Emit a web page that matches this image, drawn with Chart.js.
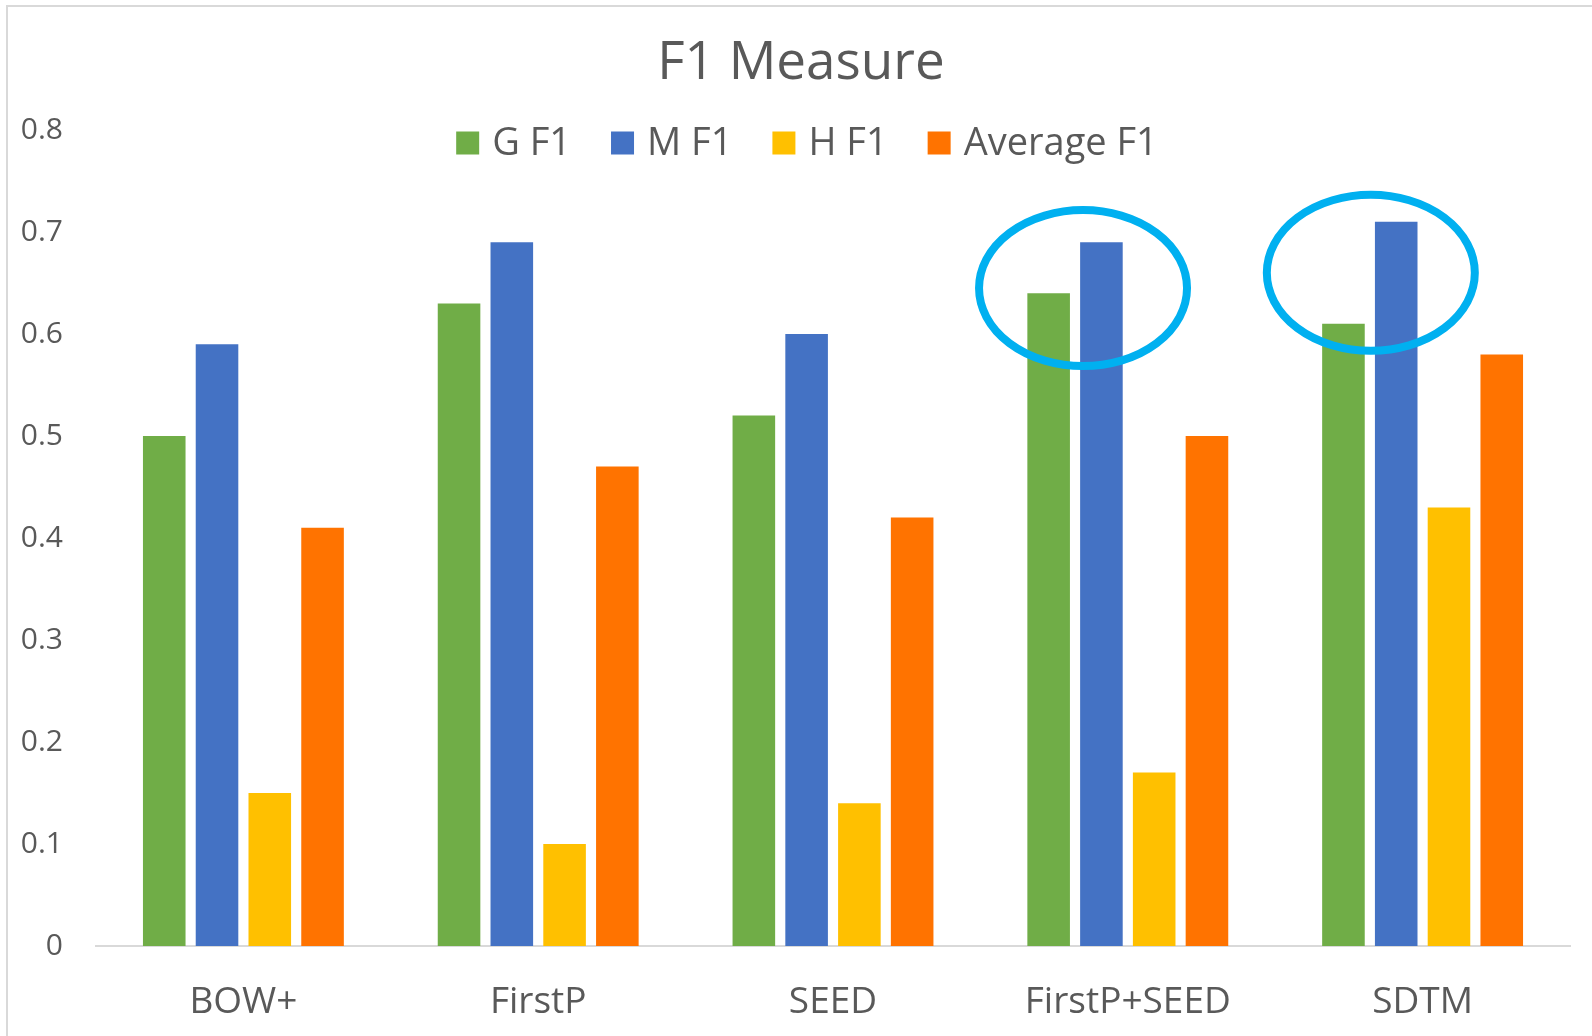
<!DOCTYPE html>
<html>
<head>
<meta charset="utf-8">
<script src="https://cdn.jsdelivr.net/npm/chart.js@4.4.1/dist/chart.umd.min.js"></script>
<style>
  html, body { margin: 0; padding: 0; background: #fff; }
  #wrap { position: relative; width: 1592px; height: 1036px; }
  #frame { position: absolute; left: 6px; top: 5px; right: -2px; bottom: -2px;
           border-left: 2px solid #d9d9d9; border-top: 2px solid #d9d9d9; pointer-events: none; }
</style>
</head>
<body>
<div id="wrap">
  <canvas id="chart"></canvas>
  <div id="frame"></div>
</div>
<script>
// data
const categories = ['BOW+', 'FirstP', 'SEED', 'FirstP+SEED', 'SDTM']
const gF1 = [0.50, 0.63, 0.52, 0.64, 0.61]
const mF1 = [0.59, 0.69, 0.60, 0.69, 0.71]
const hF1 = [0.15, 0.10, 0.14, 0.17, 0.43]
const avgF1 = [0.41, 0.47, 0.42, 0.50, 0.58]
const yTicks = [0, 0.1, 0.2, 0.3, 0.4, 0.5, 0.6, 0.7, 0.8]

// circled groups: category index and the value at the circle centre
const highlightCats = [3, 4]
const highlightValues = [0.645, 0.66]

const FONT = "'Open Sans', 'Noto Sans', sans-serif"
const TEXT = '#595959'

// title + legend drawn over the plot area like Excel does
const headerPlugin = {
  id: 'header',
  afterDraw(chart) {
    const ctx = chart.ctx
    const cx = 803
    ctx.save()
    ctx.fillStyle = TEXT
    ctx.textAlign = 'center'
    ctx.textBaseline = 'middle'
    ctx.font = `53px ${FONT}`
    ctx.fillText('F1 Measure', cx - 2, 64)

    ctx.font = `38px ${FONT}`
    const box = 23, gapText = 13, gapItem = 40
    const items = chart.data.datasets.map(d => ({
      label: d.label, color: d.backgroundColor, w: ctx.measureText(d.label).width
    }))
    let total = 0
    items.forEach((it, i) => { total += box + gapText + it.w + (i < items.length - 1 ? gapItem : 0) })
    let x = cx + 4 - total / 2
    const y = 143
    ctx.textAlign = 'left'
    items.forEach(it => {
      ctx.fillStyle = it.color
      ctx.fillRect(x, y - box / 2, box, box)
      x += box + gapText
      ctx.fillStyle = TEXT
      ctx.fillText(it.label, x, y + 1)
      x += it.w + gapItem
    })
    ctx.restore()
  }
}

const circleShift = [8, 1]
const circlePlugin = {
  id: 'circles',
  afterDatasetsDraw(chart) {
    const ctx = chart.ctx
    const m0 = chart.getDatasetMeta(0)
    const m1 = chart.getDatasetMeta(1)
    const ys = chart.scales.y
    ctx.save()
    ctx.strokeStyle = '#00b0f0'
    ctx.lineWidth = 8
    highlightCats.forEach((c, i) => {
      const x = (m0.data[c].x + m1.data[c].x) / 2 + circleShift[i]
      const y = ys.getPixelForValue(highlightValues[i])
      ctx.beginPath()
      ctx.ellipse(x, y, 104, 78, 0, 0, Math.PI * 2)
      ctx.stroke()
    })
    ctx.restore()
  }
}

const ctx = document.getElementById('chart').getContext('2d')
new Chart(ctx, {
  type: 'bar',
  data: {
    labels: categories,
    datasets: [
      { label: 'G F1', data: gF1, backgroundColor: '#70ad47' },
      { label: 'M F1', data: mF1, backgroundColor: '#4472c4' },
      { label: 'H F1', data: hF1, backgroundColor: '#ffc000' },
      { label: 'Average F1', data: avgF1, backgroundColor: '#ff7300' }
    ]
  },
  options: {
    responsive: true,
    maintainAspectRatio: false,
    animation: false,
    devicePixelRatio: 1,
    categoryPercentage: 0.716,
    barPercentage: 0.807,
    layout: { padding: { top: 130, right: 22, bottom: 0, left: 0 } },
    plugins: {
      legend: { display: false },
      title: { display: false },
      tooltip: { enabled: false }
    },
    scales: {
      x: {
        grid: { display: false, drawTicks: false },
        border: { display: true, color: '#d9d9d9', width: 2 },
        ticks: { color: TEXT, font: { family: FONT, size: 37 }, padding: 34 },
        afterFit(scale) { scale.height = 90 }
      },
      y: {
        min: 0,
        max: 0.8,
        afterBuildTicks(scale) { scale.ticks = yTicks.map(v => ({ value: v })) },
        grid: { display: false, drawTicks: false },
        border: { display: false },
        ticks: {
          color: TEXT,
          font: { family: FONT, size: 30 },
          padding: 33,
          callback: v => String(Math.round(v * 10) / 10)
        },
        afterFit(scale) { scale.width = 96 }
      }
    }
  },
  plugins: [headerPlugin, circlePlugin]
})
</script>
</body>
</html>
